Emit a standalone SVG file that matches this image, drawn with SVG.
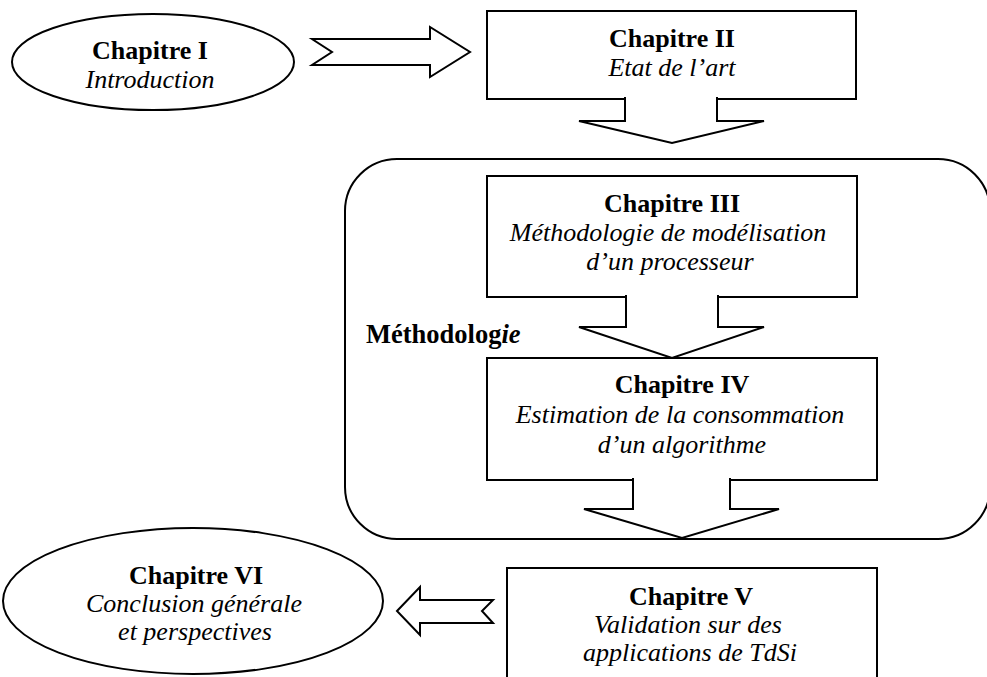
<svg xmlns="http://www.w3.org/2000/svg" width="987" height="677" viewBox="0 0 987 677">
<style>
.s{fill:#fff;stroke:#000;stroke-width:2}
.c{fill:#fff;stroke:#000;stroke-width:2;stroke-linejoin:miter}
text{font-family:"Liberation Serif","Times New Roman",serif;font-size:26px;fill:#000;text-anchor:middle}
.b{font-weight:bold}
.i{font-style:italic}
</style>
<rect width="987" height="677" fill="#fff"/>
<g id="methodologie">
<rect class="s" x="345" y="159" width="645" height="380" rx="52" ry="52"/>
<text class="b" x="366" y="343" style="text-anchor:start;font-size:26.5px">Méthodolog<tspan class="i">ie</tspan></text>
</g>
<g id="chap1">
<ellipse class="s" cx="153" cy="62" rx="141" ry="48"/>
<text class="b" x="150" y="59">Chapitre I</text>
<text class="i" x="150" y="88">Introduction</text>
</g>
<g id="chap2">
<rect class="s" x="487" y="11" width="369" height="88"/>
<text class="b" x="672" y="47">Chapitre II</text>
<text class="i" x="672" y="76">Etat de l’art</text>
</g>
<g id="chap3">
<rect class="s" x="487" y="176" width="370" height="121"/>
<text class="b" x="672" y="212">Chapitre III</text>
<text class="i" x="668" y="241">Méthodologie de modélisation</text>
<text class="i" x="670" y="270">d’un processeur</text>
</g>
<g id="chap4">
<rect class="s" x="487" y="358" width="390" height="122"/>
<text class="b" x="682" y="393">Chapitre IV</text>
<text class="i" x="680" y="423">Estimation de la consommation</text>
<text class="i" x="682" y="453">d’un algorithme</text>
</g>
<g id="chap5">
<rect class="s" x="507" y="568" width="370" height="130"/>
<text class="b" x="691" y="605">Chapitre V</text>
<text class="i" x="688" y="633">Validation sur des</text>
<text class="i" x="690" y="661">applications de TdSi</text>
</g>
<g id="chap6">
<ellipse class="s" cx="193" cy="601" rx="190" ry="73"/>
<text class="b" x="196" y="584">Chapitre VI</text>
<text class="i" x="194" y="612">Conclusion générale</text>
<text class="i" x="195" y="640">et perspectives</text>
</g>
<g id="connectors">
<polygon class="c" points="312,39 430,39 430,27 470,52 430,77 430,65 312,65 332,52"/>
<path class="c" d="M625,97 V121 H579 L672,143 L764,121 H717 V97"/>
<path class="c" d="M626,295 V327 H579 L672,358 L764,327 H718 V295"/>
<path class="c" d="M633,478 V509 H584 L682,538 L779,509 H730 V478"/>
<polygon class="c" points="397,611 420,587 420,600 493,600 482,611 493,623 420,623 420,635"/>
</g>
</svg>
